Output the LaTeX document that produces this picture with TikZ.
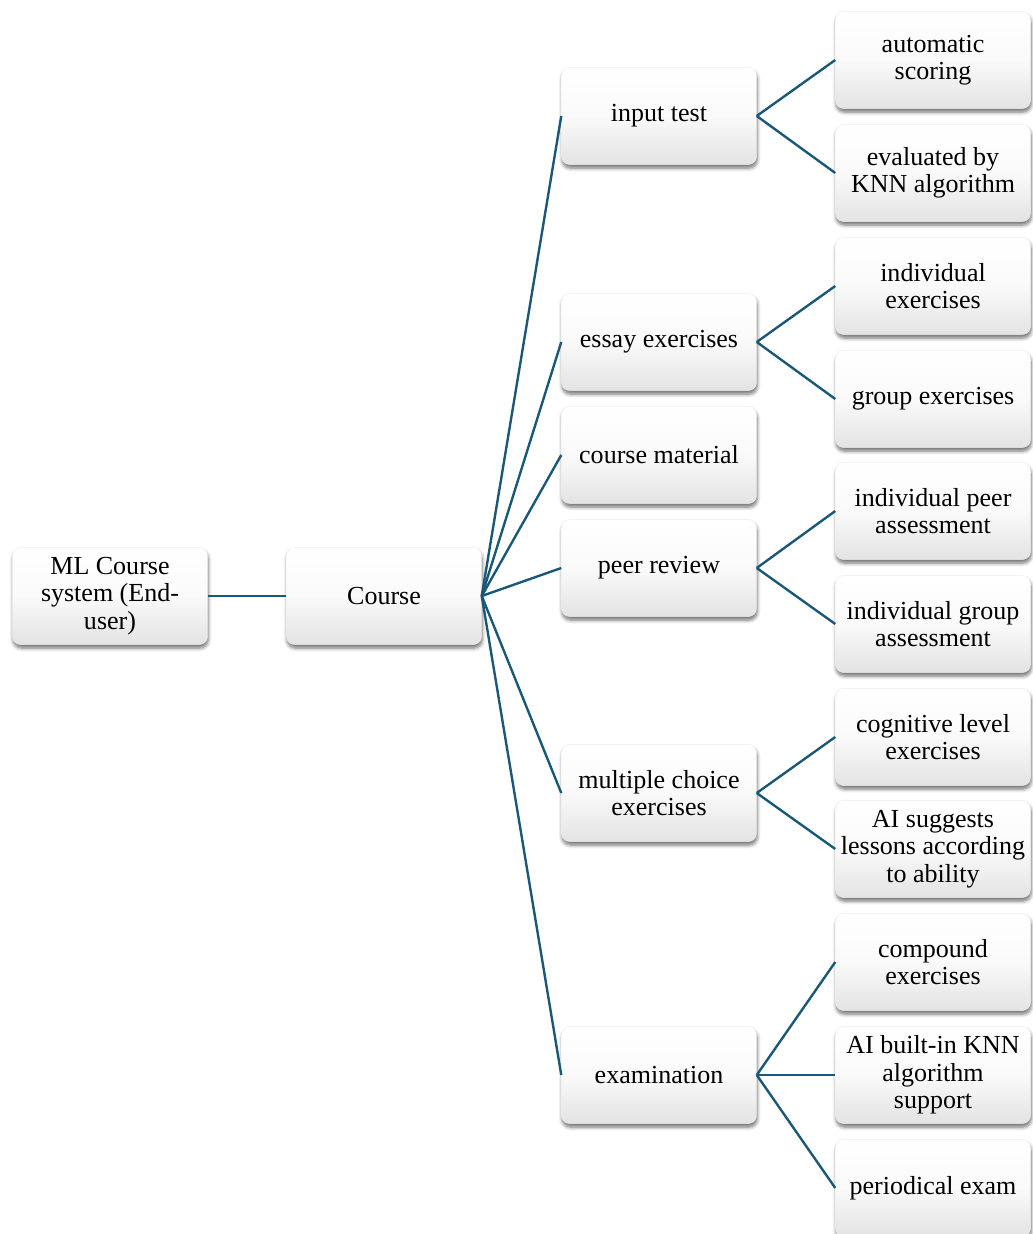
\documentclass[tikz,border=0pt]{standalone}
\usepackage{fontspec}
\setmainfont{Liberation Serif}
\usepackage{xcolor}
\usepackage{tikz}
\usetikzlibrary{positioning,shadows,shadows.blur}

\definecolor{linkblue}{HTML}{1A5877}

\begin{document}
\begin{tikzpicture}[
			x=0.025cm, y=-0.025cm,
			box/.style={rectangle, rounded corners=6pt, draw=gray!15, line width=0.3pt,
				top color=white, bottom color=gray!22, middle color=white!96!gray,
				minimum width=4.875cm, minimum height=2.43cm, inner sep=2pt,
				align=center, font=\fontsize{18.5}{19.5}\selectfont,
				blur shadow={shadow xshift=0.5pt, shadow yshift=-2.5pt, shadow blur radius=2.5pt,
					shadow blur steps=6, shadow opacity=55}},
			link/.style={draw=linkblue, line width=1.7pt},
			]
			\useasboundingbox (0,0) rectangle (1032,1234);
			
			% Raiz e curso
			\node[box] (ml) at (110,596) {ML Course\\system (End-\\user)};
			\node[box] (course) at (384,596) {Course};
			
			% Segundo nivel
			\node[box] (input) at (659,116) {input test};
			\node[box] (essay) at (659,342) {essay exercises};
			\node[box] (material) at (659,455) {course material};
			\node[box] (peer) at (659,568) {peer review};
			\node[box] (choice) at (659,793) {multiple choice\\exercises};
			\node[box] (exam) at (659,1075) {examination};
			
			% Terceiro nivel
			\node[box] (auto) at (933,60) {automatic\\scoring};
			\node[box] (knn) at (933,173) {evaluated by\\KNN algorithm};
			\node[box] (indiv) at (933,286) {individual\\exercises};
			\node[box] (group) at (933,399) {group exercises};
			\node[box] (ipeer) at (933,511) {individual peer\\assessment};
			\node[box] (igroup) at (933,624) {individual group\\assessment};
			\node[box] (cogn) at (933,737) {cognitive level\\exercises};
			\node[box] (suggest) at (933,849) {AI suggests\\lessons according\\to ability};
			\node[box] (compound) at (933,962) {compound\\exercises};
			\node[box] (builtin) at (933,1075) {AI built-in KNN\\algorithm\\support};
			\node[box] (periodic) at (933,1188) {periodical exam};
			
			% Arestas
			\draw[link] (ml.east) -- (course.west);
			\foreach \c in {input,essay,material,peer,choice,exam}
				\draw[link] (course.east) -- (\c.west);
			
			\draw[link] (input.east) -- (auto.west);
			\draw[link] (input.east) -- (knn.west);
			\draw[link] (essay.east) -- (indiv.west);
			\draw[link] (essay.east) -- (group.west);
			\draw[link] (peer.east) -- (ipeer.west);
			\draw[link] (peer.east) -- (igroup.west);
			\draw[link] (choice.east) -- (cogn.west);
			\draw[link] (choice.east) -- (suggest.west);
			\draw[link] (exam.east) -- (compound.west);
			\draw[link] (exam.east) -- (builtin.west);
			\draw[link] (exam.east) -- (periodic.west);
			
		\end{tikzpicture}
\end{document}
